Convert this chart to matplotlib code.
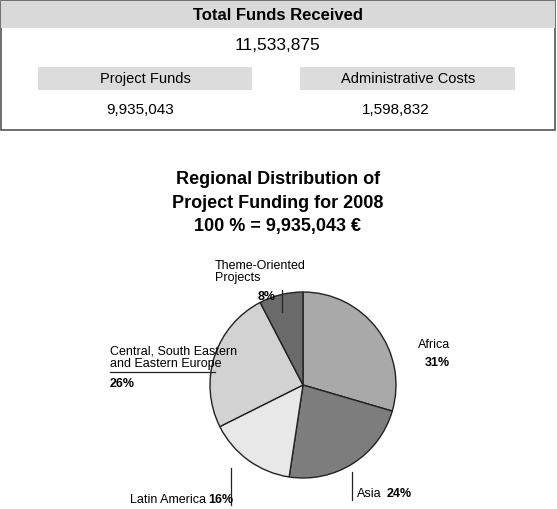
import matplotlib
matplotlib.use("Agg")
import matplotlib.pyplot as plt
from matplotlib.patches import Rectangle
from matplotlib.lines import Line2D

regions = ["Africa", "Asia", "Latin America", "Central, South Eastern\nand Eastern Europe", "Theme-Oriented\nProjects"]
shares = [31, 24, 16, 26, 8]
colors = ["#a9a9a9", "#7d7d7d", "#e8e8e8", "#d2d2d2", "#6b6b6b"]
total_label = "11,533,875"
project_funds = "9,935,043"
admin_costs = "1,598,832"

W, H = 557, 509
plt.rcParams['font.family'] = ['Liberation Sans Narrow', 'Liberation Sans', 'DejaVu Sans']
fig = plt.figure(figsize=(W/100, H/100), dpi=100)

def X(px): return px / W
def Y(py): return 1 - py / H

def rect(x0, y0, x1, y1, **kw):
    fig.patches.append(Rectangle((X(x0), Y(y1)), X(x1) - X(x0), Y(y0) - Y(y1),
                                 transform=fig.transFigure, **kw))

# Top box
rect(1, 1, 555, 130, facecolor="none", edgecolor="#555555", lw=1.2)
rect(1, 1, 555, 28, facecolor="#d9d9d9", edgecolor="none")
fig.text(X(278), Y(15), "Total Funds Received", ha="center", va="center", fontsize=12, fontweight="bold")
fig.text(X(278), Y(45), total_label, ha="center", va="center", fontsize=12.5)
rect(38, 67, 252, 90, facecolor="#dcdcdc", edgecolor="none")
rect(300, 67, 515, 90, facecolor="#dcdcdc", edgecolor="none")
fig.text(X(145), Y(79), "Project Funds", ha="center", va="center", fontsize=10.5)
fig.text(X(408), Y(79), "Administrative Costs", ha="center", va="center", fontsize=10.5)
fig.text(X(140), Y(110), project_funds, ha="center", va="center", fontsize=11)
fig.text(X(396), Y(110), admin_costs, ha="center", va="center", fontsize=11)

# Title
for i, t in enumerate(["Regional Distribution of", "Project Funding for 2008", "100 % = 9,935,043 €"]):
    fig.text(X(278), Y(180 + 23*i), t, ha="center", va="center", fontsize=13, fontweight="bold")

# Pie
cx, cy, r = 303, 385, 93
ax = fig.add_axes([X(cx - r), Y(cy + r), X(2*r), Y(cy - r) - Y(cy + r)])
ax.pie(shares, colors=colors, startangle=90, counterclock=False,
       wedgeprops=dict(edgecolor="#222222", linewidth=1.0))
ax.set_xlim(-1.0, 1.0)
ax.set_ylim(-1.0, 1.0)
ax.axis("off")

def line(pts):
    xs = [X(p[0]) for p in pts]; ys = [Y(p[1]) for p in pts]
    fig.lines.append(Line2D(xs, ys, transform=fig.transFigure, color="#222222", lw=0.9))

fs = 9
fig.text(X(418), Y(345), regions[0], ha="left", va="center", fontsize=fs)
fig.text(X(425), Y(363), f"{shares[0]}%", ha="left", va="center", fontsize=fs, fontweight="bold")

line([(352, 472), (352, 500)])
fig.text(X(357), Y(494), regions[1], ha="left", va="center", fontsize=fs)
fig.text(X(387), Y(494), f"{shares[1]}%", ha="left", va="center", fontsize=fs, fontweight="bold")

line([(231, 468), (231, 505)])
fig.text(X(130), Y(500), regions[2], ha="left", va="center", fontsize=fs)
fig.text(X(208), Y(500), f"{shares[2]}%", ha="left", va="center", fontsize=fs, fontweight="bold")

line([(110, 372), (215, 372)])
fig.text(X(110), Y(358), regions[3], ha="left", va="center", fontsize=fs, linespacing=1.1)
fig.text(X(110), Y(384), f"{shares[3]}%", ha="left", va="center", fontsize=fs, fontweight="bold")

line([(282, 290), (282, 312)])
fig.text(X(215), Y(272), regions[4], ha="left", va="center", fontsize=fs, linespacing=1.1)
fig.text(X(258), Y(297), f"{shares[4]}%", ha="left", va="center", fontsize=fs, fontweight="bold")

fig.savefig("out.png", dpi=100)
